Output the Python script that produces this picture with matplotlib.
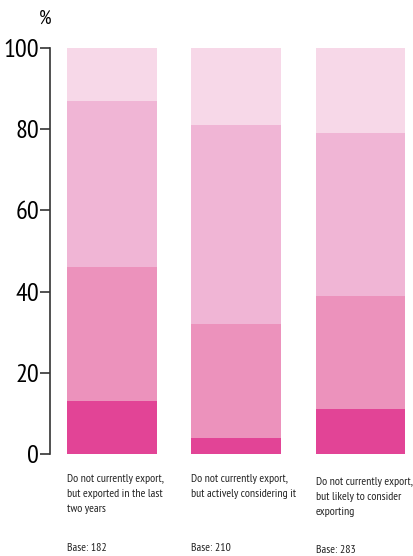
import matplotlib
matplotlib.use("Agg")
import matplotlib.pyplot as plt
import matplotlib.transforms as mtransforms
import numpy as np

categories = ["Do not currently export,\nbut exported in the last\ntwo years",
              "Do not currently export,\nbut actively considering it",
              "Do not currently export,\nbut likely to consider\nexporting"]
bases = ["Base: 182", "Base: 210", "Base: 283"]
seg1 = [13, 4, 11]
seg2 = [33, 28, 28]
seg3 = [41, 49, 40]
seg4 = [13, 19, 21]
yticks = [0, 20, 40, 60, 80, 100]
colors = ["#E24496", "#EC92BC", "#F0B5D5", "#F7D8E8"]

plt.rcParams['font.family'] = ['PT Sans Narrow', 'DejaVu Sans']

fig = plt.figure(figsize=(4.14, 5.56), dpi=100)
ax = fig.add_axes([50/414, 102/556, 364/414, 406/556])

x = np.arange(len(categories))
w = 0.723
bottom = np.zeros(3)
for vals, c in zip([seg1, seg2, seg3, seg4], colors):
    ax.bar(x, vals, width=w, bottom=bottom, color=c, linewidth=0)
    bottom += np.array(vals)

ax.set_xlim(-0.498, 2.43)
ax.set_ylim(0, 100)
ax.set_yticks(yticks)
ax.set_yticklabels([str(t) for t in yticks], fontsize=19)
ax.tick_params(axis='y', length=7, width=1.2, color='#333333', pad=1)
ax.set_xticks([])
for s in ['top', 'right', 'bottom']:
    ax.spines[s].set_visible(False)
ax.spines['left'].set_color('#333333')
ax.spines['left'].set_linewidth(1.2)

trans = mtransforms.blended_transform_factory(ax.transData, fig.transFigure)
label_tops = [474, 474, 477]
base_y = [548, 548, 550]
for i, (lab, b) in enumerate(zip(categories, bases)):
    ax.text(i - w/2, 1 - label_tops[i]/556, lab, transform=trans, ha='left', va='top',
            fontsize=8.5, linespacing=1.62, color='#222222')
    ax.text(i - w/2, 1 - base_y[i]/556, b, transform=trans, ha='left', va='center',
            fontsize=8.5, color='#222222')

fig.text(45/414, 1 - 19/556, "%", ha='center', va='center', fontsize=14)

fig.savefig("out.png", dpi=100)
